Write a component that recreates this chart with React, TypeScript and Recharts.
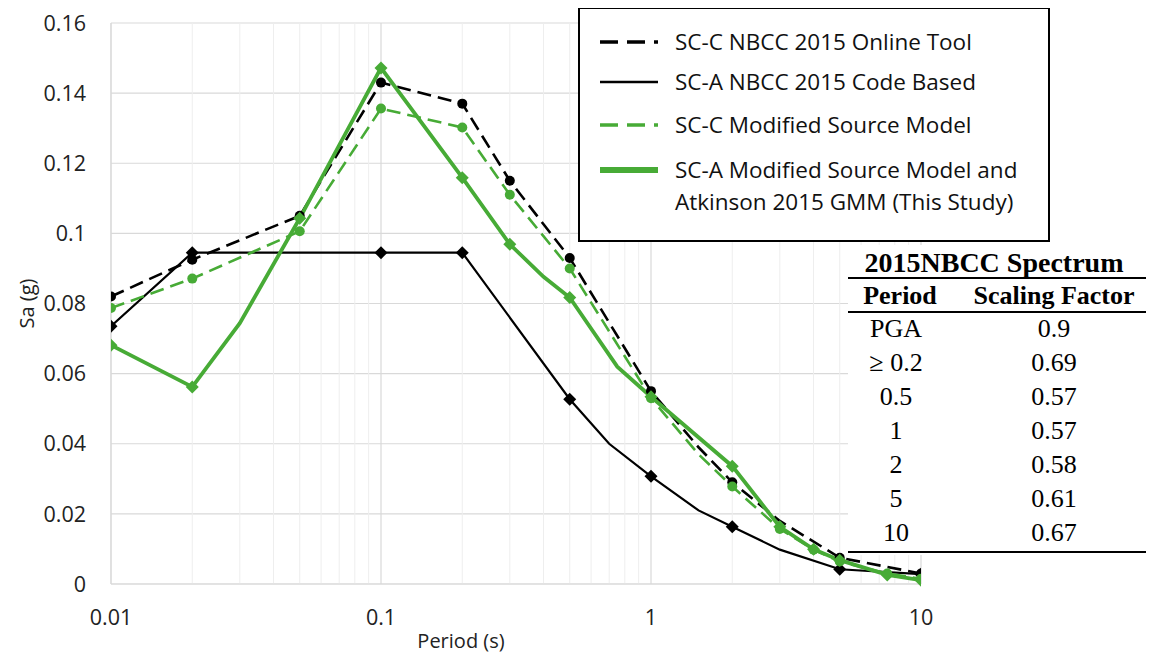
import React from 'react';
import { LineChart, Line, XAxis, YAxis, CartesianGrid, ReferenceLine, Label } from 'recharts';

const GREEN = '#47ab36';

// periods (s) and Sa (g)
const onlineT = [0.01, 0.02, 0.05, 0.1, 0.2, 0.3, 0.5, 1, 1.5, 2, 3, 5, 10];
const onlineSa = [0.082, 0.0925, 0.105, 0.143, 0.137, 0.115, 0.093, 0.055, 0.039, 0.029, 0.018, 0.0075, 0.003];
const onlinePlain = [1.5, 3];

const codeT = [0.01, 0.02, 0.1, 0.2, 0.5, 0.7, 1, 1.5, 2, 3, 5, 10];
const codeSa = [0.0735, 0.0945, 0.0945, 0.0945, 0.0527, 0.04, 0.0307, 0.021, 0.0163, 0.0098, 0.0042, 0.0028];
const codePlain = [0.7, 1.5, 3];

const modCT = [0.01, 0.02, 0.05, 0.1, 0.2, 0.3, 0.5, 1, 1.5, 2, 3, 4, 5, 7.5, 10];
const modCSa = [0.0787, 0.0871, 0.1006, 0.1356, 0.1302, 0.111, 0.09, 0.053, 0.037, 0.0278, 0.0157, 0.0098, 0.0064, 0.003, 0.0015];
const modCPlain = [1.5];

const studyT = [0.01, 0.02, 0.03, 0.05, 0.1, 0.2, 0.3, 0.4, 0.5, 0.75, 1, 2, 3, 4, 5, 7.5, 10];
const studySa = [0.0681, 0.0562, 0.0744, 0.1043, 0.1472, 0.1159, 0.0969, 0.0876, 0.0817, 0.062, 0.0534, 0.0336, 0.0163, 0.0099, 0.0068, 0.0026, 0.0011];
const studyPlain = [0.03, 0.4, 0.75];

const xTicks = [0.01, 0.1, 1, 10];
const xMinor = [0.02, 0.03, 0.04, 0.05, 0.06, 0.07, 0.08, 0.09, 0.2, 0.3, 0.4, 0.5, 0.6, 0.7, 0.8, 0.9, 2, 3, 4, 5, 6, 7, 8, 9];
const yTicks = [0, 0.02, 0.04, 0.06, 0.08, 0.1, 0.12, 0.14, 0.16];

const tablePeriods = ['PGA', '\u2265 0.2', '0.5', '1', '2', '5', '10'];
const tableFactors = ['0.9', '0.69', '0.57', '0.57', '0.58', '0.61', '0.67'];

type Series = {
  name: string[];
  t: number[];
  sa: number[];
  plain: number[];
  color: string;
  width: number;
  dash?: string;
  marker: 'circle' | 'diamond';
  legendWidth: number;
  legendY: number;
};

// drawing order: last one on top
const series: Series[] = [
  { name: ['SC-A NBCC 2015 Code Based'], t: codeT, sa: codeSa, plain: codePlain, color: '#000', width: 2.2, marker: 'diamond', legendWidth: 2.5, legendY: 73 },
  { name: ['SC-C NBCC 2015 Online Tool'], t: onlineT, sa: onlineSa, plain: onlinePlain, color: '#000', width: 2.6, dash: '14 7', marker: 'circle', legendWidth: 3.5, legendY: 33 },
  { name: ['SC-C Modified Source Model'], t: modCT, sa: modCSa, plain: modCPlain, color: GREEN, width: 2.6, dash: '14 7', marker: 'circle', legendWidth: 3.5, legendY: 116 },
  { name: ['SC-A Modified Source Model and', 'Atkinson 2015 GMM (This Study)'], t: studyT, sa: studySa, plain: studyPlain, color: GREEN, width: 3.8, marker: 'diamond', legendWidth: 6, legendY: 161 },
];

const makeDot = (s: Series) => (props: any) => {
  const { cx, cy, payload, index } = props;
  if (cx == null || cy == null || s.plain.includes(payload.t)) return <g key={`d${index}`} />;
  if (s.marker === 'circle') return <circle key={`d${index}`} cx={cx} cy={cy} r={5} fill={s.color} />;
  const r = 6.5;
  return <path key={`d${index}`} d={`M${cx},${cy - r}L${cx + r},${cy}L${cx},${cy + r}L${cx - r},${cy}Z`} fill={s.color} />;
};

const tickStyle = { fontFamily: 'Open Sans', fontSize: 21.5, fill: '#222' };

const LegendBox = () => (
  <div
    style={{
      position: 'absolute',
      left: 570,
      top: -1,
      width: 472,
      height: 235,
      boxSizing: 'border-box',
      border: '2px solid #000',
      background: '#fff',
      zIndex: 5,
    }}
  >
    <svg width={468} height={231} style={{ display: 'block' }}>
      {series.map((s, i) => (
        <g key={i}>
          <line x1={20} x2={78} y1={s.legendY} y2={s.legendY} stroke={s.color} strokeWidth={s.legendWidth} strokeDasharray={s.dash ? '18 9' : undefined} />
          {s.name.map((n, k) => (
            <text key={k} x={95} y={s.legendY + k * 32} dy="0.35em" fontFamily="Open Sans" fontSize={22.5} fill="#111">{n}</text>
          ))}
        </g>
      ))}
    </svg>
  </div>
);

const SpectrumTable = () => (
  <div style={{ position: 'absolute', left: 840, top: 237, width: 306, height: 310, background: '#fff', zIndex: 5 }}>
    <svg width={306} height={310} fontFamily="Liberation Serif" fill="#000" style={{ display: 'block' }}>
      <text x={146} y={17} dy="0.35em" textAnchor="middle" fontWeight="bold" fontSize={28}>2015NBCC Spectrum</text>
      <line x1={0} x2={306} y1={33} y2={33} stroke="#000" strokeWidth={2} />
      <text x={52} y={50} dy="0.35em" textAnchor="middle" fontWeight="bold" fontSize={26}>Period</text>
      <text x={206} y={50} dy="0.35em" textAnchor="middle" fontWeight="bold" fontSize={26}>Scaling Factor</text>
      <line x1={0} x2={306} y1={67} y2={67} stroke="#000" strokeWidth={2} />
      {tablePeriods.map((p, i) => (
        <g key={p}>
          <text x={48} y={83 + i * 34} dy="0.35em" textAnchor="middle" fontSize={26}>{p}</text>
          <text x={206} y={83 + i * 34} dy="0.35em" textAnchor="middle" fontSize={26}>{tableFactors[i]}</text>
        </g>
      ))}
      <line x1={0} x2={306} y1={307} y2={307} stroke="#000" strokeWidth={2} />
    </svg>
  </div>
);

export default function App() {
  return (
    <div style={{ position: 'relative', width: 1138, height: 651 }}>
      <LineChart width={1138} height={651} margin={{ top: 15, right: 225, bottom: 35, left: 43 }}>
        <CartesianGrid stroke="#d9d9d9" strokeWidth={1.2} />
        {xMinor.map((v) => (
          <ReferenceLine key={v} x={v} stroke="#eeeeee" strokeWidth={1} />
        ))}
        <XAxis
          dataKey="t"
          type="number"
          scale="log"
          domain={[0.01, 10]}
          ticks={xTicks}
          allowDataOverflow
          tickFormatter={(v) => String(v)}
          tick={tickStyle}
          tickLine={false}
          tickMargin={20}
          stroke="#d9d9d9"
          height={40}
        >
          <Label
            content={({ viewBox }: any) => (
              <text x={viewBox.x + viewBox.width / 2 - 55} y={viewBox.y + 57} textAnchor="middle" dy="0.35em" fontFamily="Open Sans" fontSize={20} fill="#222">
                Period (s)
              </text>
            )}
          />
        </XAxis>
        <YAxis
          type="number"
          domain={[0, 0.16]}
          ticks={yTicks}
          tickFormatter={(v) => String(v)}
          tick={tickStyle}
          tickLine={false}
          tickMargin={19}
          stroke="#d9d9d9"
          width={60}
        >
          <Label
            content={({ viewBox }: any) => (
              <text
                x={19}
                y={viewBox.y + viewBox.height / 2}
                textAnchor="middle"
                dy="0.35em"
                transform={`rotate(-90 19 ${viewBox.y + viewBox.height / 2})`}
                fontFamily="Open Sans"
                fontSize={20}
                fill="#222"
              >
                Sa (g)
              </text>
            )}
          />
        </YAxis>
        {series.map((s, i) => (
          <Line
            key={i}
            data={s.t.map((t, k) => ({ t, sa: s.sa[k] }))}
            dataKey="sa"
            type="linear"
            stroke={s.color}
            strokeWidth={s.width}
            strokeDasharray={s.dash}
            dot={makeDot(s)}
            activeDot={false}
            isAnimationActive={false}
          />
        ))}
      </LineChart>
      <LegendBox />
      <SpectrumTable />
    </div>
  );
}
